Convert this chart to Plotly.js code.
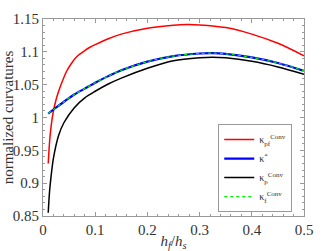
<!DOCTYPE html>
<html><head><meta charset="utf-8">
<script src="https://cdn.plot.ly/plotly-3.0.1.min.js"></script>
<style>html,body{margin:0;padding:0;background:#fff}#c{width:334px;height:251px}</style>
</head><body><div id="c"></div>
<script>
const xRed = [0.01, 0.0125, 0.015, 0.02, 0.025, 0.03, 0.035, 0.045, 0.055, 0.065, 0.08, 0.09, 0.1, 0.125, 0.15, 0.2, 0.25, 0.275, 0.3, 0.35, 0.4, 0.45, 0.5];
const kPf  = [0.93, 0.962, 0.983, 1.010, 1.027, 1.040, 1.051, 1.070, 1.083, 1.093, 1.102, 1.107, 1.111, 1.120, 1.127, 1.136, 1.1405, 1.1415, 1.141, 1.137, 1.127, 1.113, 1.094];
const xS   = [0.01, 0.02, 0.04, 0.06, 0.08, 0.1, 0.125, 0.15, 0.2, 0.25, 0.3, 0.325, 0.35, 0.4, 0.45, 0.5];
const kStar= [1.006, 1.012, 1.024, 1.035, 1.044, 1.053, 1.063, 1.072, 1.085, 1.0935, 1.0975, 1.098, 1.097, 1.0915, 1.083, 1.071];
const xP   = [0.01, 0.0125, 0.015, 0.02, 0.03, 0.04, 0.06, 0.08, 0.1, 0.125, 0.15, 0.2, 0.25, 0.3, 0.325, 0.35, 0.4, 0.45, 0.5];
const kP   = [0.855, 0.887, 0.907, 0.938, 0.973, 0.992, 1.015, 1.030, 1.040, 1.051, 1.060, 1.075, 1.0865, 1.091, 1.0918, 1.0908, 1.0855, 1.077, 1.066];
const kF   = kStar.slice();
const xTicks = [0, 0.1, 0.2, 0.3, 0.4, 0.5];
const yTicks = [0.85, 0.9, 0.95, 1, 1.05, 1.1, 1.15];

const fam = 'Liberation Serif, DejaVu Serif, serif';
const font = {family: fam, size: 14, color: '#333'};
const sp = {shape: 'spline', smoothing: 0.8};
const data = [
  {x: xRed, y: kPf, mode: 'lines', line: Object.assign({color: '#ff0000', width: 1.5}, sp), name: 'κ<sub>pf</sub><sup>Conv</sup>'},
  {x: xS, y: kStar, mode: 'lines', line: Object.assign({color: '#0000ff', width: 2.2}, sp), name: 'κ<sup>*</sup>'},
  {x: xP, y: kP, mode: 'lines', line: Object.assign({color: '#000000', width: 1.5}, sp), name: 'κ<sub>p</sub><sup>Conv</sup>'},
  {x: xS, y: kF, mode: 'lines', line: Object.assign({color: '#00ee00', width: 1.2, dash: 'dot'}, sp), name: 'κ<sub>f</sub><sup>Conv</sup>'}
];
const axBase = {
  showline: true, mirror: 'ticks', linecolor: '#999', linewidth: 1,
  ticks: 'inside', ticklen: 4, tickcolor: '#999', showgrid: false, zeroline: false,
  tickfont: {family: fam, size: 15, color: '#333'}
};
const layout = {
  width: 334, height: 251,
  margin: {l: 43, r: 30, t: 19, b: 35},
  paper_bgcolor: '#fff', plot_bgcolor: '#fff',
  font: font,
  showlegend: true,
  legend: {x: 0.955, xanchor: 'right', y: 0.02, yanchor: 'bottom', bgcolor: '#fff',
           bordercolor: '#999', borderwidth: 1, font: {family: fam, size: 10, color: '#333'},
           tracegroupgap: 0, itemwidth: 30},
  xaxis: Object.assign({}, axBase, {range: [0, 0.5], tickvals: xTicks, ticktext: xTicks.map(String),
    minor: {ticks: 'inside', dtick: 0.02, ticklen: 2, tickcolor: '#999'},
    title: {text: '<i>h<sub>f</sub></i>/<i>h<sub>s</sub></i>', font: {family: fam, size: 15, color: '#333'}, standoff: 2}}),
  yaxis: Object.assign({}, axBase, {range: [0.85, 1.15], tickvals: yTicks, ticktext: yTicks.map(String),
    minor: {ticks: 'inside', dtick: 0.01, ticklen: 2, tickcolor: '#999'},
    title: {text: 'normalized curvatures', font: {family: fam, size: 15, color: '#333'}, standoff: 2}})
};
Plotly.newPlot('c', data, layout, {staticPlot: true, displayModeBar: false});
</script></body></html>
